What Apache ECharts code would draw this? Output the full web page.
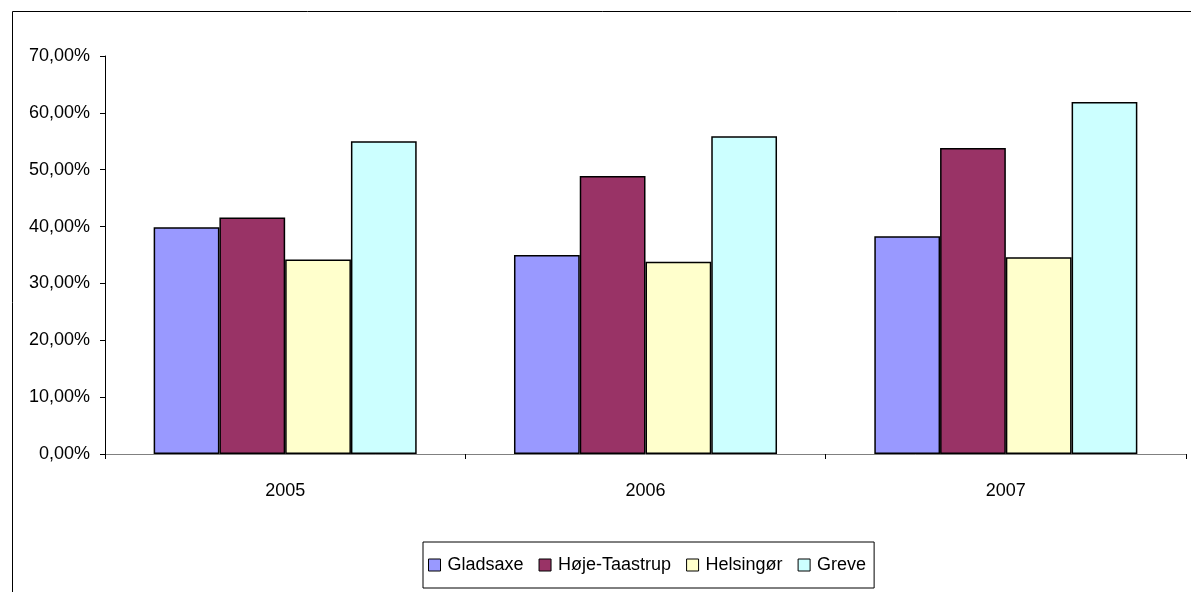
<!DOCTYPE html>
<html>
<head>
<meta charset="utf-8">
<script src="https://cdn.jsdelivr.net/npm/echarts@6/dist/echarts.min.js"></script>
<style>
  html, body { margin: 0; padding: 0; background: #fff; }
  #chart { width: 1191px; height: 592px; }
</style>
</head>
<body>
<div id="chart"></div>
<script>
const categories = ['2005', '2006', '2007'];
const seriesNames = ['Gladsaxe', 'Høje-Taastrup', 'Helsingør', 'Greve'];
const gladsaxe = [39.9, 35.0, 38.3];
const hojeTaastrup = [41.6, 48.9, 53.8];
const helsingor = [34.2, 33.8, 34.6];
const greve = [55.0, 55.9, 61.9];
const seriesValues = [gladsaxe, hojeTaastrup, helsingor, greve];
const colors = ['#9999FF', '#993366', '#FFFFCC', '#CCFFFF'];

const font = '"Liberation Sans", Arial, sans-serif';
const chart = echarts.init(document.getElementById('chart'));
chart.setOption({
  animation: false,
  backgroundColor: '#fff',
  textStyle: { fontFamily: font, color: '#000' },
  graphic: [{
    type: 'rect', left: 10, top: 9, z: -1,
    shape: { width: 1200, height: 600 },
    style: { fill: 'none', stroke: '#000', lineWidth: 1 }
  }],
  grid: { left: 105, right: 5, top: 56, bottom: 138, containLabel: false },
  legend: {
    data: seriesNames,
    left: 423, top: 542,
    padding: [14, 8, 14, 5],
    borderColor: '#000', borderWidth: 1,
    icon: 'rect',
    itemWidth: 12, itemHeight: 12, itemGap: 15,
    itemStyle: { borderColor: '#000', borderWidth: 1 },
    textStyle: { fontFamily: font, fontSize: 18, color: '#000', padding: [0, 0, 0, 2] }
  },
  xAxis: {
    type: 'category',
    data: categories,
    axisLine: { show: true, lineStyle: { color: '#808080', width: 1 } },
    axisTick: { show: true, length: 5, lineStyle: { color: '#000' } },
    axisLabel: { fontFamily: font, fontSize: 18, color: '#000', margin: 28 },
    splitLine: { show: false }
  },
  yAxis: {
    type: 'value',
    min: 0, max: 70, interval: 10,
    axisLine: { show: true, lineStyle: { color: '#000', width: 1 } },
    axisTick: { show: true, length: 5, lineStyle: { color: '#000' } },
    axisLabel: {
      fontFamily: font, fontSize: 18, color: '#000', margin: 15,
      formatter: v => v.toFixed(2).replace('.', ',') + '%'
    },
    splitLine: { show: false }
  },
  series: seriesNames.map((name, i) => ({
    name: name,
    type: 'bar',
    data: seriesValues[i],
    barGap: '0%',
    barCategoryGap: '27%',
    itemStyle: { color: colors[i], borderColor: '#000', borderWidth: 1.5 }
  }))
});
</script>
</body>
</html>
